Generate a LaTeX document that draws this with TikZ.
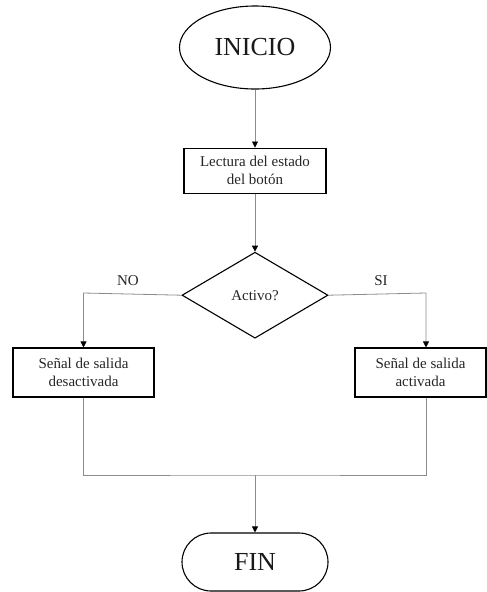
\documentclass[tikz,border=0pt]{standalone}
\usepackage{fontspec}
\setmainfont{Liberation Serif}
\usetikzlibrary{positioning,arrows.meta,shapes.geometric,shapes.misc}

\begin{document}
\begin{tikzpicture}[
  x=1pt, y=1pt,
  >={Triangle[width=6pt,length=6pt,color=black]},
  node distance=58pt,
  terminal/.style={
    draw, line width=1.1pt, inner sep=0pt,
    font=\fontsize{26}{30}\selectfont, text=black!90
  },
  proceso/.style={
    rectangle, draw, line width=1.1pt, align=center, inner sep=0pt,
    minimum height=45pt, font=\fontsize{15}{18}\selectfont, text=black!85
  },
  decision/.style={
    diamond, draw, line width=1.1pt, inner sep=0pt, aspect=1.7,
    minimum width=146pt, minimum height=86pt,
    font=\fontsize{15}{18}\selectfont, text=black!85
  },
  etiqueta/.style={font=\fontsize{15}{18}\selectfont, text=black!85},
  linea/.style={draw=black!45, line width=0.8pt},
  flecha/.style={linea, ->}
]
\useasboundingbox (0,0) rectangle (487,-592);

\node (inicio) [terminal, ellipse, minimum width=151pt, minimum height=83pt]
  at (255,-47.5) {INICIO};

\node (lectura) [proceso, minimum width=142pt, below=of inicio]
  {Lectura del estado\\del botón};

\node (activo) [decision, below=of lectura] {Activo?};

\node (izq) [proceso, minimum width=141pt, minimum height=49pt]
  at (83.5,-372.5) {Señal de salida\\desactivada};

\node (der) [proceso, minimum width=131pt, minimum height=49pt]
  at (420.5,-372.5) {Señal de salida\\activada};

\node (fin) [terminal, rounded rectangle, minimum width=146pt, minimum height=58pt]
  at (255,-562) {FIN};

\node (etiqno) [etiqueta] at (128,-281) {NO};
\node (etiqsi) [etiqueta] at (381,-281) {SI};

\coordinate (no) at (83.5,-293);
\coordinate (si) at (426,-293);
\coordinate (union) at (255,-475);

\draw[flecha] (inicio) -- (lectura);
\draw[flecha] (lectura) -- (activo);
\draw[flecha] (activo.west) -- (no) -- (izq.north);
\draw[flecha] (activo.east) -- (si) -- (si |- der.north);
\draw[linea] (izq.south) |- (union) -| (si |- der.south);
\draw[flecha] (union) -- (fin);
\end{tikzpicture}
\end{document}
